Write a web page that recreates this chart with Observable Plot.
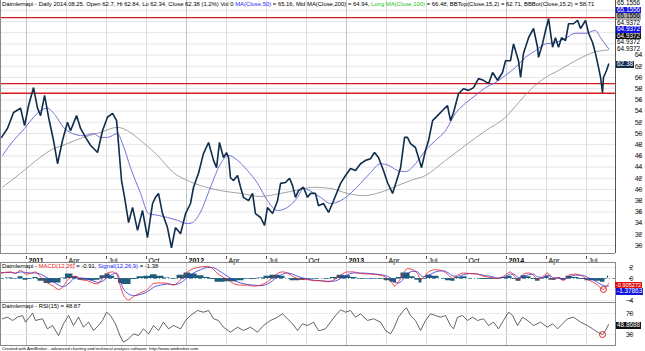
<!DOCTYPE html>
<html><head><meta charset="utf-8">
<script src="https://cdn.jsdelivr.net/npm/d3@7"></script>
<script src="https://cdn.jsdelivr.net/npm/@observablehq/plot@0.6"></script>
<style>
body{margin:0;background:#fff;}
#wrap{position:relative;width:645px;height:351px;overflow:hidden;font-family:"Liberation Sans",Arial,sans-serif;background:#fff;}
.p{position:absolute;left:0;}
.t{position:absolute;white-space:nowrap;font-size:5.9px;line-height:6px;color:#000;}
.tag{position:absolute;left:616px;font-size:6.4px;line-height:6.5px;height:6.5px;padding:0 1px;white-space:nowrap;}
</style></head><body><div id="wrap"></div>
<script>
// ---------- DATA (decimal years) ----------
const closeSeries = [[2010.844,49.3],[2010.881,50.9],[2010.919,53.75],[2010.963,54.5],[2010.988,51.4],[2011.013,55],[2011.044,58.2],[2011.069,54.5],[2011.088,53.2],[2011.113,56.8],[2011.138,52.9],[2011.169,48.75],[2011.194,44.6],[2011.225,48.75],[2011.256,52],[2011.275,50.5],[2011.313,53.2],[2011.338,50.9],[2011.369,49.3],[2011.400,47.9],[2011.444,46.6],[2011.475,50.5],[2011.506,52.9],[2011.538,53.6],[2011.563,52.3],[2011.575,48.2],[2011.594,41.6],[2011.613,38.6],[2011.638,34.1],[2011.663,36.8],[2011.694,32.7],[2011.725,36.25],[2011.756,31.4],[2011.788,37.5],[2011.806,38.6],[2011.825,39.3],[2011.850,35.7],[2011.881,33.2],[2011.906,29.6],[2011.931,33.2],[2011.963,32.1],[2011.994,35.7],[2012.025,37.5],[2012.044,40.4],[2012.075,42.9],[2012.106,46.4],[2012.138,48.4],[2012.169,45.2],[2012.188,43.9],[2012.206,48.4],[2012.231,45.7],[2012.250,46.6],[2012.263,45.7],[2012.275,42.1],[2012.294,41.6],[2012.319,42.5],[2012.338,40.4],[2012.356,38.6],[2012.388,38],[2012.413,39.3],[2012.431,35.7],[2012.463,35],[2012.488,33.6],[2012.506,36.8],[2012.538,35.7],[2012.569,38],[2012.588,41.1],[2012.619,41.25],[2012.644,42],[2012.663,40.7],[2012.681,38.6],[2012.700,39.8],[2012.731,40.4],[2012.756,38.6],[2012.775,39.3],[2012.806,39.3],[2012.825,37.1],[2012.856,37.5],[2012.888,35.9],[2012.919,38],[2012.963,41.1],[2012.994,42.5],[2013.025,43.75],[2013.056,43.4],[2013.088,44.6],[2013.119,45.2],[2013.150,45.5],[2013.175,46.6],[2013.200,45.7],[2013.231,43.4],[2013.256,41.25],[2013.288,39.3],[2013.319,42.1],[2013.338,43.9],[2013.363,49.3],[2013.381,49.3],[2013.400,48.2],[2013.431,47.5],[2013.469,43.9],[2013.494,47],[2013.513,48.75],[2013.538,52.3],[2013.569,53.2],[2013.600,54.1],[2013.631,55],[2013.650,52.3],[2013.669,53.75],[2013.700,57.1],[2013.731,58],[2013.763,57.7],[2013.794,58.2],[2013.825,59.8],[2013.856,59.5],[2013.888,58.9],[2013.913,60.9],[2013.944,59.5],[2013.975,60.9],[2013.994,63],[2014.025,63],[2014.044,66],[2014.075,63],[2014.088,60],[2014.106,64.3],[2014.138,67.1],[2014.169,68.75],[2014.194,65.4],[2014.200,63.6],[2014.225,66],[2014.244,68.4],[2014.263,70.5],[2014.288,65.4],[2014.306,67.1],[2014.325,65.4],[2014.344,67.1],[2014.369,66.6],[2014.388,69.6],[2014.419,69.6],[2014.444,70.2],[2014.463,68.75],[2014.494,70.2],[2014.513,67.9],[2014.538,66.25],[2014.556,64.3],[2014.575,61.8],[2014.588,60],[2014.600,57.3],[2014.606,60],[2014.625,61.25],[2014.638,62.38]];

const ma50Series = [[2010.850,46.1],[2010.919,48.75],[2010.988,50.9],[2011.044,52.9],[2011.088,54.1],[2011.131,54.5],[2011.181,53.2],[2011.231,51.1],[2011.288,50],[2011.356,49.6],[2011.419,50],[2011.463,49.3],[2011.506,49.3],[2011.569,50],[2011.600,48.2],[2011.650,43.9],[2011.713,39.3],[2011.763,35.7],[2011.819,35.4],[2011.881,35],[2011.944,34.5],[2012.006,33.9],[2012.038,34.1],[2012.088,36],[2012.150,40.4],[2012.213,44.6],[2012.263,46.1],[2012.319,45.2],[2012.381,43.4],[2012.444,41.1],[2012.506,38],[2012.569,36.25],[2012.631,36.8],[2012.694,38.6],[2012.731,40.2],[2012.788,39.5],[2012.838,38.6],[2012.900,37.5],[2012.963,38],[2013.025,39.3],[2013.088,41.1],[2013.150,43],[2013.213,44.6],[2013.263,44.3],[2013.319,43.4],[2013.369,43.2],[2013.431,44.6],[2013.494,47],[2013.556,48.75],[2013.619,50.5],[2013.681,53.6],[2013.744,55.4],[2013.806,56.8],[2013.869,58.2],[2013.931,59.1],[2013.994,60.4],[2014.056,61.8],[2014.119,63.6],[2014.181,64.8],[2014.244,66],[2014.306,66.25],[2014.369,67],[2014.431,67.9],[2014.494,67.9],[2014.556,68.4],[2014.588,67.1],[2014.638,65.16]];

const ma200Series = [[2010.850,40.4],[2010.963,42.9],[2011.044,44.8],[2011.150,47],[2011.256,48.2],[2011.356,49.3],[2011.463,50.2],[2011.569,51.1],[2011.631,50.5],[2011.713,48.75],[2011.819,46.1],[2011.919,43],[2012.006,41.6],[2012.088,40.7],[2012.213,39.8],[2012.338,39.3],[2012.463,38.75],[2012.588,39.3],[2012.713,40],[2012.794,40.4],[2012.900,40.2],[2013.006,39.3],[2013.106,38.9],[2013.213,39.5],[2013.319,40.7],[2013.400,41.6],[2013.494,42.5],[2013.619,45.2],[2013.744,47.9],[2013.869,50.5],[2013.994,52.9],[2014.075,55.5],[2014.163,58.2],[2014.244,60],[2014.325,61.25],[2014.413,62.7],[2014.494,63.9],[2014.556,64.6],[2014.600,64.8],[2014.638,64.94]];

const levelLines = [70.7, 58.9, 57.2];

const macdSeries = [[2010.838,1.0],[2010.900,1.2],[2010.931,0.9],[2010.963,1.5],[2010.994,0.8],[2011.025,0.9],[2011.056,1.2],[2011.088,0.3],[2011.131,-0.8],[2011.169,-1.4],[2011.200,-2.0],[2011.231,-1.4],[2011.256,-0.3],[2011.275,0.2],[2011.306,0.4],[2011.338,-0.2],[2011.381,-0.4],[2011.413,-0.8],[2011.444,-1.0],[2011.475,0],[2011.506,1.0],[2011.538,1.2],[2011.563,0.8],[2011.588,-1.5],[2011.606,-3.0],[2011.638,-3.9],[2011.669,-3.3],[2011.713,-2.6],[2011.756,-2.0],[2011.794,-0.9],[2011.838,-0.8],[2011.881,-0.9],[2011.919,-1.2],[2011.963,-0.2],[2012.006,1.2],[2012.044,1.8],[2012.088,2.1],[2012.131,2.2],[2012.163,1.8],[2012.194,0.9],[2012.225,0.3],[2012.256,-0.2],[2012.294,-0.9],[2012.338,-1.2],[2012.381,-1.2],[2012.419,-1.4],[2012.463,-1.2],[2012.506,-0.6],[2012.538,0.2],[2012.569,0.9],[2012.600,1.2],[2012.631,1.0],[2012.663,0.4],[2012.694,0],[2012.725,-0.2],[2012.756,-0.2],[2012.794,-0.4],[2012.838,-0.4],[2012.881,-0.6],[2012.919,-0.3],[2012.963,0.6],[2013.006,1.2],[2013.044,1.2],[2013.088,0.9],[2013.150,0.8],[2013.213,0.6],[2013.256,0],[2013.288,-0.9],[2013.300,-1.4],[2013.325,-0.6],[2013.356,0.9],[2013.381,1.8],[2013.413,1.6],[2013.444,0.9],[2013.463,-0.2],[2013.481,0.2],[2013.513,1.2],[2013.556,1.6],[2013.600,1.4],[2013.638,0.6],[2013.663,0],[2013.694,0.6],[2013.731,1.0],[2013.775,0.9],[2013.819,0.8],[2013.856,0.4],[2013.900,0.2],[2013.944,0],[2013.981,0.4],[2014.025,1.2],[2014.044,0.6],[2014.075,-0.3],[2014.106,0.8],[2014.138,1.0],[2014.169,0.6],[2014.194,-0.2],[2014.225,0.3],[2014.256,1.0],[2014.275,0.2],[2014.294,-0.2],[2014.325,0.2],[2014.356,-0.4],[2014.388,0.6],[2014.431,0.8],[2014.475,0.4],[2014.506,-0.2],[2014.538,-0.6],[2014.569,-1.2],[2014.606,-2.0],[2014.625,-1.4],[2014.638,-0.91]];

const signalValues = [1.0,1.1,1.0,1.2,1.1,1.0,1.0,0.8,0.1,-0.6,-1.2,-1.5,-1.1,-0.6,0.1,0.1,-0.1,-0.4,-0.7,-0.5,0.2,0.8,1.0,-0.6,-1.9,-2.8,-3.1,-2.9,-2.4,-1.6,-1.2,-1.0,-1.1,-0.8,0.2,1.0,1.6,2.0,2.0,1.6,1.0,0.4,-0.3,-0.8,-1.1,-1.2,-1.3,-1.0,-0.4,0.3,0.8,1.0,0.8,0.4,0.1,-0.1,-0.3,-0.4,-0.5,-0.5,0,0.7,1.0,1.0,0.9,0.7,0.4,-0.2,-0.6,-0.8,-0.1,0.8,1.3,1.2,0.6,0.3,0.6,1.2,1.4,1.0,0.5,0.4,0.7,0.9,0.8,0.6,0.4,0.1,0.2,0.8,0.8,0.2,0.3,0.7,0.8,0.3,0.2,0.6,0.5,0.1,0.1,-0.1,0.2,0.6,0.6,0.2,-0.2,-0.7,-1.3,-1.4,-1.38];

const rsiSeries = [[2010.850,59.9],[2010.881,63],[2010.913,56.7],[2010.944,63],[2010.975,66.2],[2010.994,53.5],[2011.038,70.6],[2011.056,56.7],[2011.100,60],[2011.131,40.8],[2011.163,47.1],[2011.200,28],[2011.231,50.3],[2011.263,66.2],[2011.294,47.1],[2011.325,63],[2011.356,43.9],[2011.388,53.5],[2011.419,37.6],[2011.450,47.1],[2011.475,56.7],[2011.500,72.5],[2011.525,66.2],[2011.556,50.3],[2011.588,24.9],[2011.606,15.4],[2011.638,21.7],[2011.669,31.2],[2011.700,28],[2011.731,40.8],[2011.763,31.2],[2011.794,47.1],[2011.825,37.6],[2011.856,53.5],[2011.888,40.8],[2011.919,47.1],[2011.963,40.8],[2011.994,56.7],[2012.025,66.2],[2012.069,75.7],[2012.106,72.5],[2012.138,75.7],[2012.169,60],[2012.200,56.7],[2012.231,43.9],[2012.275,34.4],[2012.319,43.9],[2012.356,37.6],[2012.400,43.9],[2012.444,34.4],[2012.481,47.1],[2012.525,56.7],[2012.569,63],[2012.600,69.4],[2012.631,60],[2012.663,50.3],[2012.694,37.6],[2012.725,50.3],[2012.756,47.1],[2012.794,53.5],[2012.825,37.6],[2012.838,37.6],[2012.869,40.8],[2012.900,53.5],[2012.931,66.2],[2012.963,77],[2012.994,72.5],[2013.025,75.7],[2013.056,63],[2013.088,69.4],[2013.131,56.7],[2013.169,60],[2013.213,53.5],[2013.244,37.6],[2013.275,31.2],[2013.294,40.8],[2013.325,63],[2013.356,75.7],[2013.375,80.8],[2013.400,66.2],[2013.431,56.7],[2013.463,37.6],[2013.494,56.7],[2013.525,69.4],[2013.556,66.2],[2013.588,63],[2013.619,66.2],[2013.650,47.1],[2013.669,40.8],[2013.694,63],[2013.725,66.2],[2013.756,56.7],[2013.788,63],[2013.819,56.7],[2013.856,60],[2013.888,47.1],[2013.919,53.5],[2013.950,40.8],[2013.981,56.7],[2014.013,72.5],[2014.038,66.2],[2014.069,47.1],[2014.100,63],[2014.131,56.7],[2014.169,47.1],[2014.213,53.5],[2014.256,43.9],[2014.288,50.3],[2014.319,40.8],[2014.350,50.3],[2014.381,60],[2014.419,63],[2014.463,53.5],[2014.506,47.1],[2014.538,40.8],[2014.569,34.4],[2014.600,30],[2014.619,37.6],[2014.638,48.87]];

const quarterTicks = [2011,2011.25,2011.5,2011.75,2012,2012.25,2012.5,2012.75,2013,2013.25,2013.5,2013.75,2014,2014.25,2014.5];
const quarterLabels = ["2011","Apr","Jul","Oct","2012","Apr","Jul","Oct","2013","Apr","Jul","Oct","2014","Apr","Jul"];
const priceTicks = [30,32,34,36,38,40,42,44,46,48,50,52,54,56,58,60,62,64];
const priceGrid = [30,32,34,36,38,40,42,44,46,48,50,52,54,56,58,60,62,64,66,68,70,72];
const macdTicks = [2,0,-4];
const macdGrid = [2,-2,-4];
const rsiTicks = [70,30];
const lastClose = 62.38;

// ---------- layout ----------
const W = 645, PR = 30;
const xDom = [2010.8375, 2014.68125];
const font = {fontFamily:"'Liberation Sans',Arial,sans-serif", fontSize:"7px", background:"transparent", overflow:"visible"};
const wrap = document.getElementById("wrap");
const qData = quarterTicks.map((t,i)=>({t, label:quarterLabels[i], year: Number.isInteger(t)}));

function place(el, top){ el.classList.add("p"); el.style.top = top+"px"; wrap.appendChild(el); }

// main price panel
const main = Plot.plot({
  width: W, height: 253, marginLeft: 0, marginRight: PR, marginTop: 0, marginBottom: 0,
  style: font,
  x: {domain: xDom, axis: null},
  y: {domain: [28.571, 73.75], axis: null},
  marks: [
    Plot.ruleY(priceGrid, {stroke:"#e6e6e6"}),
    Plot.ruleX(qData, {x:"t", stroke: d=>d.year ? "#c4c4c4" : "#dedede"}),
    Plot.ruleY(levelLines, {stroke:"#d41c1c", strokeWidth:1.4}),
    Plot.line(ma200Series, {x:d=>d[0], y:d=>d[1], stroke:"#8c8c8c", strokeWidth:0.8, curve:"monotone-x"}),
    Plot.line(ma50Series, {x:d=>d[0], y:d=>d[1], stroke:"#6262d6", strokeWidth:0.9, curve:"monotone-x"}),
    Plot.line(closeSeries, {x:d=>d[0], y:d=>d[1], stroke:"#0f2d4d", strokeWidth:1.6, strokeLinejoin:"miter"}),
    Plot.ruleX([xDom[1]], {stroke:"#555"}),
    Plot.ruleX([xDom[0]], {stroke:"#888"}),
    Plot.ruleY([28.571], {stroke:"#888"}),
    Plot.axisY(priceTicks, {anchor:"right", tickSize:3, tickPadding:2, textAnchor:"end", dx:22, fill:"#222", stroke:"#555"})
  ]
});
place(main, 0);

// MACD panel (with date strip above)
const macdData = macdSeries.map((d,i)=>({t:d[0], m:d[1], s:signalValues[i], h:d[1]-signalValues[i]}));
const macd = Plot.plot({
  width: W, height: 49, marginLeft: 0, marginRight: PR, marginTop: 9, marginBottom: 0,
  style: font,
  x: {domain: xDom, axis: null},
  y: {domain: [-4.364, 2.909], axis: null},
  marks: [
    Plot.ruleX(qData, {x:"t", stroke: d=>d.year ? "#c4c4c4" : "#dedede"}),
    Plot.ruleY(macdGrid, {stroke:"#ececec"}),
    Plot.text(qData.filter(d=>d.year), {x:"t", text:"label", frameAnchor:"top", dy:-4.5, dx:2, textAnchor:"start", fontWeight:"bold", fontSize:7}),
    Plot.text(qData.filter(d=>!d.year), {x:"t", text:"label", frameAnchor:"top", dy:-4.5, dx:2, textAnchor:"start", fontSize:7}),
    Plot.ruleX(qData, {x:"t", y1:3.45, y2:4.0, stroke:"#555"}),
    Plot.areaY(macdData, {x:"t", y:"h", fill:"#1f5c7a", curve:"step"}),
    Plot.ruleY([0], {stroke:"#3c7896", strokeDasharray:"4,2,1,2", strokeWidth:0.8}),
    Plot.line(macdData, {x:"t", y:"s", stroke:"#3030e6", strokeWidth:0.8, curve:"monotone-x"}),
    Plot.line(macdData, {x:"t", y:"m", stroke:"#e62020", strokeWidth:0.8, curve:"monotone-x"}),
    Plot.dot([macdSeries[macdSeries.length-3]], {x:d=>d[0], y:d=>d[1], r:3, stroke:"#e02020", strokeWidth:1}),
    Plot.frame({stroke:"#888"}),
    Plot.axisY(macdTicks, {anchor:"right", tickSize:3, tickPadding:2, textAnchor:"end", dx:13, fill:"#222", stroke:"#555"})
  ]
});
place(macd, 253);

// RSI panel
const rsi = Plot.plot({
  width: W, height: 43, marginLeft: 0, marginRight: PR, marginTop: 0, marginBottom: 0,
  style: font,
  x: {domain: xDom, axis: null},
  y: {domain: [9.05, 90.95], axis: null},
  marks: [
    Plot.ruleX(qData, {x:"t", stroke: d=>d.year ? "#c4c4c4" : "#dedede"}),
    Plot.ruleY(rsiTicks, {stroke:"#ececec"}),
    Plot.line(rsiSeries, {x:d=>d[0], y:d=>d[1], stroke:"#222", strokeWidth:0.7}),
    Plot.dot([rsiSeries[rsiSeries.length-3]], {x:d=>d[0], y:d=>d[1], r:3, stroke:"#e02020", strokeWidth:1}),
    Plot.frame({stroke:"#888"}),
    Plot.axisY(rsiTicks, {anchor:"right", tickSize:3, tickPadding:2, textAnchor:"end", dx:13, fill:"#222", stroke:"#555"})
  ]
});
place(rsi, 302);

// ---------- texts ----------
function txt(html, left, top, cls="t"){ const d=document.createElement("div"); d.className=cls; d.style.left=left+"px"; d.style.top=top+"px"; d.innerHTML=html; wrap.appendChild(d); return d; }
const hdr = txt('Daimlernapi - Daily 2014.08.25. Open 62.7, Hi 62.84, Lo 62.34, Close 62.38 (1.2%) Vol 0 <span style="color:#2525ff">MA(Close,50)</span> = 65.16, Mid MA(Close,200) = 64.94, <span style="color:#22c422">Long MA(Close,100)</span> = 66.48, BBTop(Close,15,2) = 62.71, BBBot(Close,15,2) = 58.71', 2, 1);
hdr.style.width="613px"; hdr.style.overflow="hidden";
txt('Daimlernapi - <span style="color:#e62020">MACD(12,26)</span> = -0.91, <span style="color:#2525ff">Signal(12,26,9)</span> = -1.38', 2, 263);
txt('Daimlernapi - RSI(15) = 48.87', 2, 303);
const cap = txt('Created with AmiBroker - advanced charting and technical analysis software. http://www.amibroker.com', 2, 346);
cap.style.fontSize="4.3px";

// value tags on the right
const tags = [
  ["65.1556","#fff","#000",0],["65.1556","#1414e0","#fff",6.5],["65.1556","#a8a8a8","#000",13],
  ["64.9372","#fff","#000",19.5],["64.9372","#1414e0","#fff",26],["64.9372","#111","#fff",32.5],
  ["64.9372","#fff","#000",39],["64.9372","#fff","#000",45.5],
  ["62.38","#0f2d4d","#fff",61],
  ["-0.905272","#e01010","#fff",281.5],["-1.37863","#1414e0","#fff",288],["48.8688","#111","#fff",322]
];
for (const [s,bg,fg,top] of tags){ const d=txt(s,616,top,"tag"); d.style.background=bg; d.style.color=fg; if (s.length>8){ d.style.fontSize="5.6px"; d.style.left="615px"; } }
</script></body></html>
